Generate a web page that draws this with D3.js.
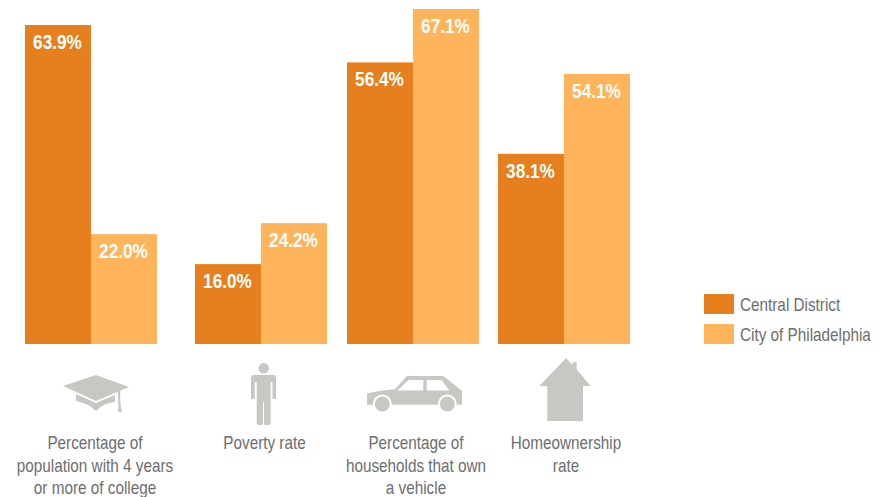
<!DOCTYPE html>
<html>
<head>
<meta charset="utf-8">
<script src="https://cdn.jsdelivr.net/npm/d3@7"></script>
<style>
html,body{margin:0;padding:0;background:#fff}
svg{display:block}
text{font-family:"Liberation Sans",sans-serif}
</style>
</head>
<body>
<svg id="chart" width="886" height="497"></svg>
<script>
// Chart data
const categories = ["college", "poverty", "vehicle", "homeownership"];
const categoryLabels = [
  ["Percentage of", "population with 4 years", "or more of college"],
  ["Poverty rate"],
  ["Percentage of", "households that own", "a vehicle"],
  ["Homeownership", "rate"]
];
const seriesNames = ["Central District", "City of Philadelphia"];
const centralDistrict = [63.9, 16.0, 56.4, 38.1];
const cityOfPhiladelphia = [22.0, 24.2, 67.1, 54.1];
const seriesValues = [centralDistrict, cityOfPhiladelphia];
const seriesColors = ["#e6801e", "#fdb45a"];

const iconColor = "#c8c7c3";
const textColor = "#6d6e71";
const svg = d3.select("#chart");

// Condensed type is obtained by squeezing the regular face horizontally
const squeeze = (sel, x, y, sx) => sel.attr("transform", (d, i) =>
  `translate(${typeof x === "function" ? x(d, i) : x},${typeof y === "function" ? y(d, i) : y}) scale(${sx},1)`);

// Scales: groups are unevenly spaced, bars are contiguous within a group
const baseline = 344;
const y = d3.scaleLinear().domain([0, 67.1]).range([baseline, 9]);
const groupX = d3.scaleOrdinal().domain(categories).range([25, 195, 347, 498]);
const barX = d3.scaleBand().domain(seriesNames).range([0, 132]);

const rows = categories.flatMap((c, i) =>
  seriesNames.map((s, j) => ({ category: c, series: s, value: seriesValues[j][i], color: seriesColors[j] })));

svg.append("g").selectAll("rect").data(rows).join("rect")
  .attr("x", d => groupX(d.category) + barX(d.series))
  .attr("y", d => y(d.value))
  .attr("width", barX.bandwidth())
  .attr("height", d => baseline - y(d.value))
  .attr("fill", d => d.color);

svg.append("g").selectAll("text").data(rows).join("text")
  .call(squeeze, d => groupX(d.category) + barX(d.series) + barX.bandwidth() / 2 - 0.5, d => y(d.value) + 24, 0.82)
  .attr("text-anchor", "middle")
  .attr("fill", "#fff")
  .attr("font-weight", "bold")
  .attr("font-size", 21)
  .text(d => d.value.toFixed(1) + "%");

// Category captions
const captionCentres = [95, 264.5, 416, 566];
const captionRows = categoryLabels.flatMap((lines, i) =>
  lines.map((line, k) => ({ line, i, k })));
svg.append("g").selectAll("text").data(captionRows).join("text")
  .call(squeeze, d => captionCentres[d.i], d => 449 + d.k * 22.5, 0.85)
  .attr("text-anchor", "middle")
  .attr("fill", textColor)
  .attr("font-size", 18)
  .text(d => d.line);

// Pictograms
const icons = svg.append("g").attr("fill", iconColor);

// Mortarboard
icons.append("path").attr("d", "M63 386 L96 375 L129 387 L96 401 Z");
icons.append("path").attr("d", "M76 394 L96 403 L115 395 L115 402 Q103 403 96 411 Q88 403 76 401 Z");
icons.append("path").attr("d", "M117.5 390 L120 389 L120.5 405 L122 412 L118 412 L118.5 405 Z");

// Standing figure
icons.append("circle").attr("cx", 263.7).attr("cy", 368.3).attr("r", 5.2);
icons.append("path").attr("d", "M254 375 H273.5 Q276 375 276 378 V399 H272.5 V382 H270.7 V423 Q270.7 425 268.5 425 H265 Q264 425 264 423 V402 H263 V423 Q263 425 261.5 425 H259 Q256.7 425 256.7 423 V382 H254.7 V399 H251 V378 Q251 375 254 375 Z");

// Car: body, window cut-outs, wheels with a white ring
icons.append("path").attr("d", "M367 393.5 L379 391 L395 389.3 L406.7 376 H443.3 L462 390.7 V404.7 H367 Z");
icons.append("path").attr("fill", "#fff").attr("d", "M397.5 390.5 L408.5 380 H423.3 V390.5 Z M426.7 380 H441.7 L449.3 390.5 H426.7 Z");
[382.3, 447.3].forEach(cx => {
  icons.append("circle").attr("cx", cx).attr("cy", 404).attr("r", 9.4).attr("fill", "#fff");
  icons.append("circle").attr("cx", cx).attr("cy", 404).attr("r", 7.5);
});

// House
icons.append("path").attr("d", "M566 358.3 L572.7 365 V362 H576.7 V369.5 L590.7 386 H583 V421 H547.3 V386 H539.3 Z");

// Legend
const legend = svg.append("g");
const legendY = d3.scalePoint().domain(seriesNames).range([294, 324]);
legend.selectAll("rect").data(seriesNames).join("rect")
  .attr("x", 704).attr("y", d => legendY(d))
  .attr("width", 30).attr("height", 20)
  .attr("fill", (d, i) => seriesColors[i]);
legend.selectAll("text").data(seriesNames).join("text")
  .call(squeeze, 740, d => legendY(d) + 17, 0.85)
  .attr("fill", textColor).attr("font-size", 18)
  .text(d => d);
</script>
</body>
</html>
